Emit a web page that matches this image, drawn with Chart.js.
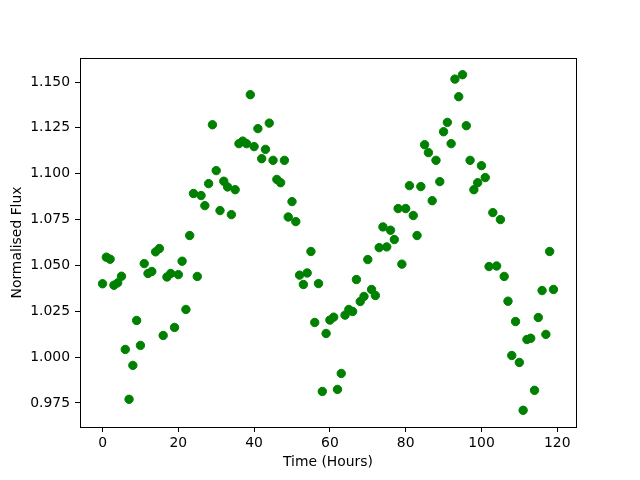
<!DOCTYPE html>
<html>
<head>
<meta charset="utf-8">
<title>Normalised Flux</title>
<script src="https://cdn.jsdelivr.net/npm/chart.js@4"></script>
<style>
    body { margin: 0; background: #fff; }
    #flux-chart { display: block; }
</style>
</head>
<body>
<canvas id="flux-chart" width="640" height="480"></canvas>
<script>
// --- Data ---
const hours = [
    0, 1, 2, 3, 4, 5, 6, 7, 8, 9, 10, 11, 12, 13, 14, 15, 16, 17, 18, 19,
    20, 21, 22, 23, 24, 25, 26, 27, 28, 29, 30, 31, 32, 33, 34, 35, 36, 37, 38, 39,
    40, 41, 42, 43, 44, 45, 46, 47, 48, 49, 50, 51, 52, 53, 54, 55, 56, 57, 58, 59,
    60, 61, 62, 63, 64, 65, 66, 67, 68, 69, 70, 71, 72, 73, 74, 75, 76, 77, 78, 79,
    80, 81, 82, 83, 84, 85, 86, 87, 88, 89, 90, 91, 92, 93, 94, 95, 96, 97, 98, 99,
    100, 101, 102, 103, 104, 105, 106, 107, 108, 109, 110, 111, 112, 113, 114, 115, 116, 117, 118, 119
];
const flux = [
    1.0400, 1.0545, 1.0534, 1.0392, 1.0405, 1.0441, 1.0042, 0.9770, 0.9955, 1.0200,
    1.0064, 1.0510, 1.0456, 1.0467, 1.0574, 1.0592, 1.0118, 1.0437, 1.0456, 1.0162,
    1.0450, 1.0523, 1.0260, 1.0663, 1.0892, 1.0440, 1.0881, 1.0826, 1.0946, 1.1267,
    1.1017, 1.0799, 1.0959, 1.0928, 1.0777, 1.0913, 1.1164, 1.1178, 1.1164, 1.1431,
    1.1148, 1.1246, 1.1082, 1.1133, 1.1276, 1.1073, 1.0969, 1.0951, 1.1073, 1.0764,
    1.0848, 1.0739, 1.0447, 1.0396, 1.0459, 1.0576, 1.0189, 1.0401, 0.9813, 1.0129,
    1.0202, 1.0218, 0.9824, 0.9911, 1.0229, 1.0260, 1.0249, 1.0423, 1.0303, 1.0331,
    1.0532, 1.0369, 1.0336, 1.0597, 1.0710, 1.0601, 1.0692, 1.0641, 1.0810, 1.0507,
    1.0810, 1.0935, 1.0772, 1.0663, 1.0930, 1.1158, 1.1115, 1.0853, 1.1073, 1.0957,
    1.1229, 1.1280, 1.1164, 1.1516, 1.1420, 1.1540, 1.1262, 1.1073, 1.0913, 1.0951,
    1.1044, 1.0979, 1.0494, 1.0788, 1.0497, 1.0750, 1.0440, 1.0305, 1.0009, 1.0194,
    0.9971, 0.9710, 1.0096, 1.0103, 0.9819, 1.0216, 1.0363, 1.0124, 1.0576, 1.0369
];
const xTicks = [0, 20, 40, 60, 80, 100, 120];
const yTicks = [0.975, 1.000, 1.025, 1.050, 1.075, 1.100, 1.125, 1.150];

document.addEventListener('DOMContentLoaded', () => {
    const getElement = (id) => document.getElementById(id);
    const ctx = getElement('flux-chart').getContext('2d');

    const font = { family: 'DejaVu Sans', size: 13.9 };

    // matplotlib-style box around the axes
    const frame = {
        id: 'frame',
        afterDraw(chart) {
            const { left, right, top, bottom } = chart.chartArea;
            const c = chart.ctx;
            c.save();
            c.strokeStyle = '#000';
            c.lineWidth = 1;
            c.strokeRect(Math.round(left) + 0.5, Math.round(top) + 0.5,
                Math.round(right - left), Math.round(bottom - top));
            c.restore();
        }
    };

    new Chart(ctx, {
        type: 'scatter',
        data: {
            datasets: [{
                label: 'Flux',
                data: hours.map((h, i) => ({ x: h, y: flux[i] })),
                backgroundColor: '#008000',
                borderColor: '#008000',
                borderWidth: 1,
                pointRadius: 4.2,
                pointHoverRadius: 4.2
            }]
        },
        options: {
            responsive: false,
            animation: false,
            devicePixelRatio: 1,
            layout: { padding: { left: 0, right: 64, top: 58, bottom: 0 } },
            plugins: { legend: { display: false }, tooltip: { enabled: false } },
            scales: {
                x: {
                    type: 'linear',
                    min: -5.95,
                    max: 124.95,
                    afterBuildTicks: (s) => { s.ticks = xTicks.map(v => ({ value: v })); },
                    afterFit: (s) => { s.height = 53; },
                    grid: { drawOnChartArea: false, drawTicks: true, tickLength: 5, color: '#000' },
                    border: { display: true, color: '#000' },
                    ticks: { color: '#000', font, padding: 3, maxRotation: 0, callback: (v) => String(v) },
                    title: { display: true, text: 'Time (Hours)', color: '#000', font, padding: { top: 0, bottom: 9 } }
                },
                y: {
                    type: 'linear',
                    min: 0.9619,
                    max: 1.1631,
                    afterBuildTicks: (s) => { s.ticks = yTicks.map(v => ({ value: v })); },
                    afterFit: (s) => { s.width = 80; },
                    grid: { drawOnChartArea: false, drawTicks: true, tickLength: 5, color: '#000' },
                    border: { display: true, color: '#000' },
                    ticks: { color: '#000', font, padding: 5, callback: (v) => Number(v).toFixed(3) },
                    title: { display: true, text: 'Normalised Flux', color: '#000', font, padding: { top: 9, bottom: 0 } }
                }
            }
        },
        plugins: [frame]
    });
});
</script>
</body>
</html>
